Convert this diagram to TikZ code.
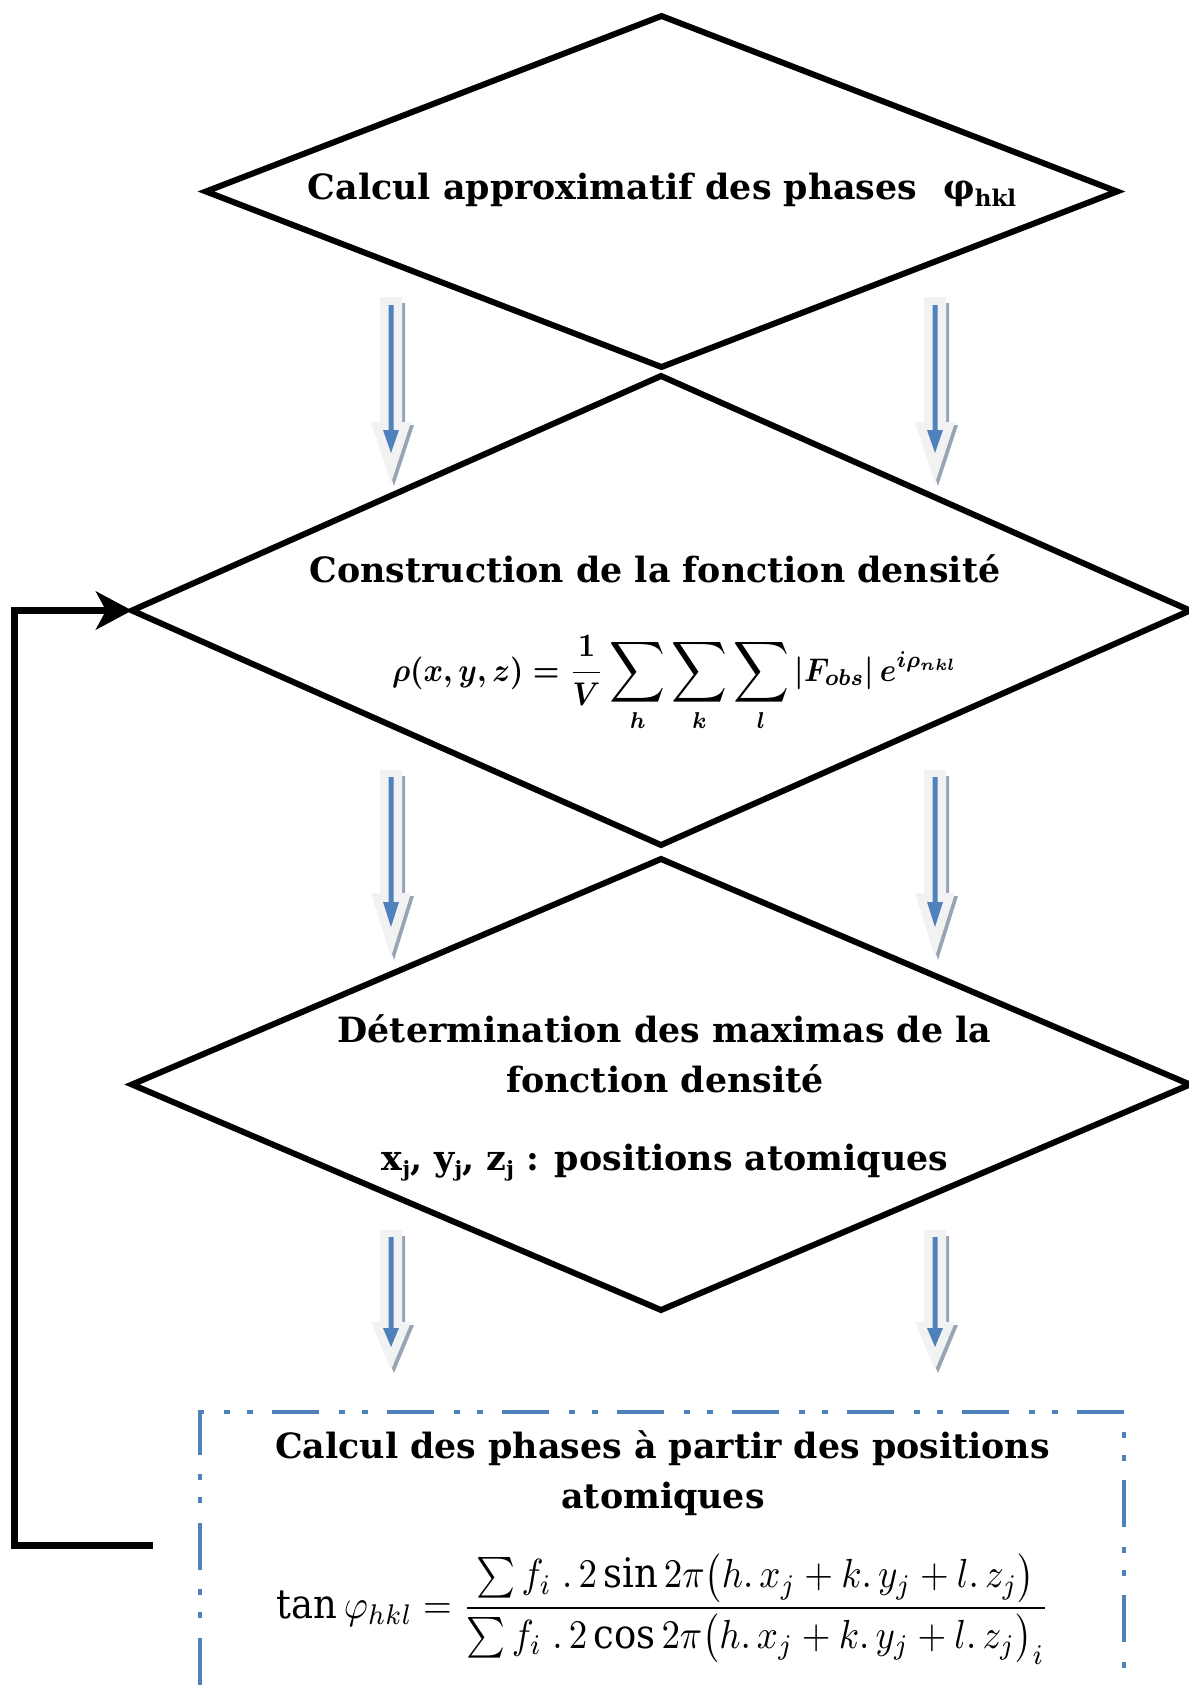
\documentclass[tikz,border=0pt]{standalone}
\usepackage{amsmath}
\usepackage{bm}
\usepackage{graphicx}
\usepackage{fontspec}
\setmainfont{DejaVu Serif}
\usetikzlibrary{shapes.geometric,arrows.meta}
\definecolor{officeblue}{HTML}{4F81BD}
\definecolor{arrowfill}{HTML}{F2F2F2}
\definecolor{arrowshadow}{HTML}{97A3B6}
\newcommand\blockarrow[7]{%
  \fill[arrowshadow] ({#1-8},{#2+6}) -- ({#1+14},{#2+6}) -- ({#1+14},{#3+3}) -- ({#1+23},{#3+3}) -- ({#1+3},{#4+3}) -- ({#1-17},{#3+3}) -- ({#1-8},{#3+3}) -- cycle;
  \fill[arrowfill] ({#1-11},{#2}) -- ({#1+11},{#2}) -- ({#1+11},{#3}) -- ({#1+20},{#3}) -- ({#1},{#4}) -- ({#1-20},{#3}) -- ({#1-11},{#3}) -- cycle;
  \fill[officeblue] ({#1-2.5},{#5}) -- ({#1+2.5},{#5}) -- ({#1+2.5},{#6}) -- ({#1+8},{#6}) -- ({#1},{#7}) -- ({#1-8},{#6}) -- ({#1-2.5},{#6}) -- cycle;
}
\newcommand\subj{\raisebox{-0.35ex}{\fontsize{10.5}{10.5}\selectfont j}}
\newcommand\bsum{\mathop{\vcenter{\hbox{\scalebox{1.3}{$\displaystyle\sum$}}}}\limits}
\begin{document}
\begin{tikzpicture}[x=0.5pt,y=-0.5pt,
  dia/.style={diamond, draw=black, line width=3pt, inner sep=0pt, outer sep=0pt, aspect=1},
  lbl/.style={font=\bfseries\fontsize{17.4}{20}\selectfont, inner sep=0pt, anchor=base},
  fml/.style={inner sep=0pt, anchor=base},
  boxline/.style={draw=officeblue, line width=2pt, dash pattern=on 23.5pt off 10pt on 3pt off 8.5pt on 3pt off 9.5pt},
  fb/.style={draw=black, line width=3.5pt, line join=miter, -{Stealth[length=18pt,width=19pt,inset=5pt]}}]
\useasboundingbox (0,0) rectangle (1188,1685);
% diamonds
\node[dia, minimum width=455.5pt, minimum height=175.5pt] (d1) at (661.5,191.5) {};
\node[dia, minimum width=529pt, minimum height=234.5pt] (d2) at (661,610.5) {};
\node[dia, minimum width=529pt, minimum height=225.5pt] (d3) at (661,1084.5) {};
% block arrows
\blockarrow{391}{297}{422}{483}{305}{430}{453}
\blockarrow{935}{297}{422}{483}{305}{430}{453}
\blockarrow{391}{770}{893}{957}{777}{902}{927}
\blockarrow{935}{770}{893}{957}{777}{902}{927}
\blockarrow{391}{1230}{1322}{1370}{1237}{1328}{1347}
\blockarrow{935}{1230}{1322}{1370}{1237}{1328}{1347}
% texts
\node[lbl] (t1) at (662,200) {Calcul approximatif des phases\hspace{13pt}φ\raisebox{-0.35ex}{\fontsize{11.5}{11.5}\selectfont hkl}};
\node[lbl] (t2) at (655,582) {Construction de la fonction densité};
\node[fml] (f1) at (675,681) {\scalebox{1}[1.1]{\resizebox{283pt}{!}{\boldmath$\displaystyle \bm{\rho(x,y,z) =} \frac{\bm{1}}{\bm{V}}\bsum_{\bm{h}}\bsum_{\bm{k}}\bsum_{\bm{l}}\bm{|F_{obs}|}\,\bm{e^{i\rho_{nkl}}}$}}};
\node[lbl] (t3) at (664.5,1042) {Détermination des maximas de la};
\node[lbl] (t4) at (665,1092) {fonction densité};
\node[lbl] (t5) at (665,1170) {x\subj, y\subj, z\subj{} : positions atomiques};
% bottom box
\draw[boxline] (200,1685) -- (200,1412) -- (1124,1412) -- (1124,1685);
\node[lbl] (t6) at (662.5,1458) {Calcul des phases à partir des positions};
\node[lbl] (t7) at (663,1508) {atomiques};
\node[fml] (f2) at (663,1618) {\scalebox{1}[1.1]{\resizebox{386pt}{!}{$\tan\varphi_{hkl} = \dfrac{\textstyle\sum f_i\;.\,2\sin 2\pi\bigl(h.\,x_j+k.\,y_j+l.\,z_j\bigr)}{\textstyle\sum f_i\;.\,2\cos 2\pi\bigl(h.\,x_j+k.\,y_j+l.\,z_j\bigr)_i}$}}};
% feedback loop
\coordinate (fbs) at (153,1545);
\coordinate (fbc) at (14,1545);
\draw[fb] (fbs) -- (fbc) |- (d2.west);
\end{tikzpicture}
\end{document}
